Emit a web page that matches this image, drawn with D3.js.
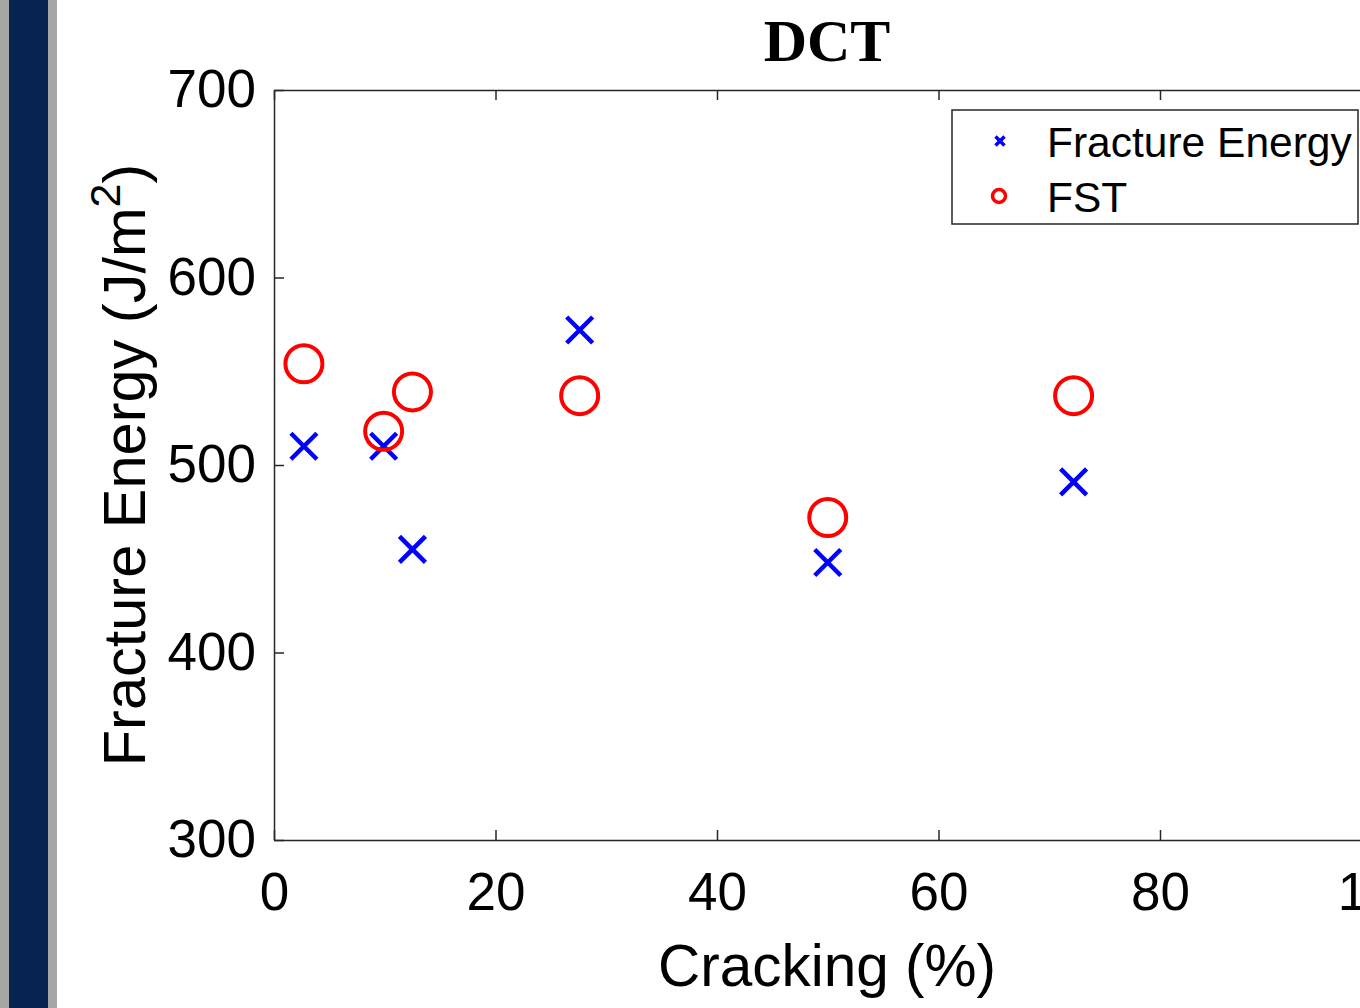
<!DOCTYPE html>
<html>
<head>
<meta charset="utf-8">
<script src="https://cdn.jsdelivr.net/npm/d3@7"></script>
<style>
  body { margin: 0; background: #fff; }
  svg { display: block; }
</style>
</head>
<body>
<div id="canvas"></div>
<script>
const canvas = d3.select("#canvas");

// data
const cracking = [2.7, 9.9, 12.5, 27.6, 50.0, 72.2];
const fractureEnergy = [510, 510, 455, 572, 448, 491];
const fst = [554, 518, 539, 537, 472, 537];
const xTicks = [0, 20, 40, 60, 80, 100];
const yTicks = [300, 400, 500, 600, 700];
const seriesNames = ["Fracture Energy", "FST"];

const width = 1360;
const height = 1008;
const margin = { top: 90, left: 274, bottom: 168, right: -21.5 };
const innerWidth = width - margin.left - margin.right;
const innerHeight = height - margin.top - margin.bottom;
const axisColor = "#262626";

const svg = canvas.append("svg")
  .attr("width", width)
  .attr("height", height);

// slide side strip
svg.append("rect").attr("x", 0).attr("y", 0).attr("width", 57).attr("height", height).attr("fill", "#a6a6a6");
svg.append("rect").attr("x", 9).attr("y", 0).attr("width", 39).attr("height", height).attr("fill", "#06244f");

const x = d3.scaleLinear().domain([0, 100]).range([0, innerWidth]);
const y = d3.scaleLinear().domain([300, 700]).range([innerHeight, 0]);

const g = svg.append("g").attr("transform", `translate(${margin.left},${margin.top})`);

function styleAxis(sel) {
  sel.select(".domain").attr("stroke", axisColor).attr("stroke-width", 1.5);
  sel.selectAll(".tick line").attr("stroke", axisColor).attr("stroke-width", 1.5);
  sel.selectAll(".tick text")
    .attr("fill", "#000")
    .style("font-family", "'Liberation Sans', Arial, sans-serif")
    .style("font-size", "53px");
}

g.append("g")
  .attr("transform", `translate(0,${innerHeight})`)
  .call(d3.axisBottom(x).tickValues(xTicks).tickSizeInner(-10).tickSizeOuter(0).tickPadding(32))
  .call(styleAxis);

g.append("g")
  .call(d3.axisLeft(y).tickValues(yTicks).tickSizeInner(-10).tickSizeOuter(0).tickPadding(18))
  .call(styleAxis);

// box sides: ticks only, no labels
g.append("g")
  .call(d3.axisTop(x).tickValues(xTicks).tickSizeInner(-10).tickSizeOuter(0))
  .call(styleAxis)
  .call(a => a.selectAll(".tick text").remove());

g.append("g")
  .attr("transform", `translate(${innerWidth},0)`)
  .call(d3.axisRight(y).tickValues(yTicks).tickSizeInner(-10).tickSizeOuter(0))
  .call(styleAxis)
  .call(a => a.selectAll(".tick text").remove());

// cross marks
const cross = (s) => `M${-s},${-s}L${s},${s}M${-s},${s}L${s},${-s}`;

g.selectAll("path.fe").data(cracking)
  .enter().append("path")
  .attr("class", "fe")
  .attr("transform", (d, i) => `translate(${x(d)},${y(fractureEnergy[i])})`)
  .attr("d", cross(13))
  .attr("stroke", "#0000ff")
  .attr("stroke-width", 4.5)
  .attr("fill", "none");

g.selectAll("circle.fst").data(cracking)
  .enter().append("circle")
  .attr("class", "fst")
  .attr("cx", d => x(d))
  .attr("cy", (d, i) => y(fst[i]))
  .attr("r", 18.5)
  .attr("stroke", "#ff0000")
  .attr("stroke-width", 4)
  .attr("fill", "none");

// title and axis labels
svg.append("text")
  .attr("x", 827).attr("y", 61)
  .attr("text-anchor", "middle")
  .style("font-family", "'Liberation Serif', 'Times New Roman', serif")
  .style("font-weight", "bold")
  .style("font-size", "60px")
  .text("DCT");

svg.append("text")
  .attr("x", 827).attr("y", 986)
  .attr("text-anchor", "middle")
  .style("font-family", "'Liberation Sans', Arial, sans-serif")
  .style("font-size", "58.5px")
  .text("Cracking (%)");

const yLabel = svg.append("text")
  .attr("transform", "translate(145,465) rotate(-90)")
  .attr("text-anchor", "middle")
  .style("font-family", "'Liberation Sans', Arial, sans-serif")
  .style("font-size", "59.5px");
yLabel.append("tspan").text("Fracture Energy (J/m");
yLabel.append("tspan").attr("dy", -25).style("font-size", "43px").text("2");
yLabel.append("tspan").attr("dy", 25).text(")");

// legend
const legend = svg.append("g").attr("transform", "translate(952,110)");
legend.append("rect")
  .attr("width", 406).attr("height", 114)
  .attr("fill", "#fff")
  .attr("stroke", axisColor)
  .attr("stroke-width", 1.5);

const rows = legend.selectAll("g.row").data(seriesNames)
  .enter().append("g")
  .attr("class", "row")
  .attr("transform", (d, i) => `translate(0,${31 + i * 55})`);

rows.filter((d, i) => i === 0).append("path")
  .attr("transform", "translate(48,0)")
  .attr("d", cross(4.5))
  .attr("stroke", "#0000ff")
  .attr("stroke-width", 3.5);

rows.filter((d, i) => i === 1).append("circle")
  .attr("cx", 47).attr("cy", 0).attr("r", 6.5)
  .attr("fill", "none")
  .attr("stroke", "#ff0000")
  .attr("stroke-width", 3.5);

rows.append("text")
  .attr("x", 95).attr("y", 16)
  .style("font-family", "'Liberation Sans', Arial, sans-serif")
  .style("font-size", "42.5px")
  .text(d => d);
</script>
</body>
</html>
